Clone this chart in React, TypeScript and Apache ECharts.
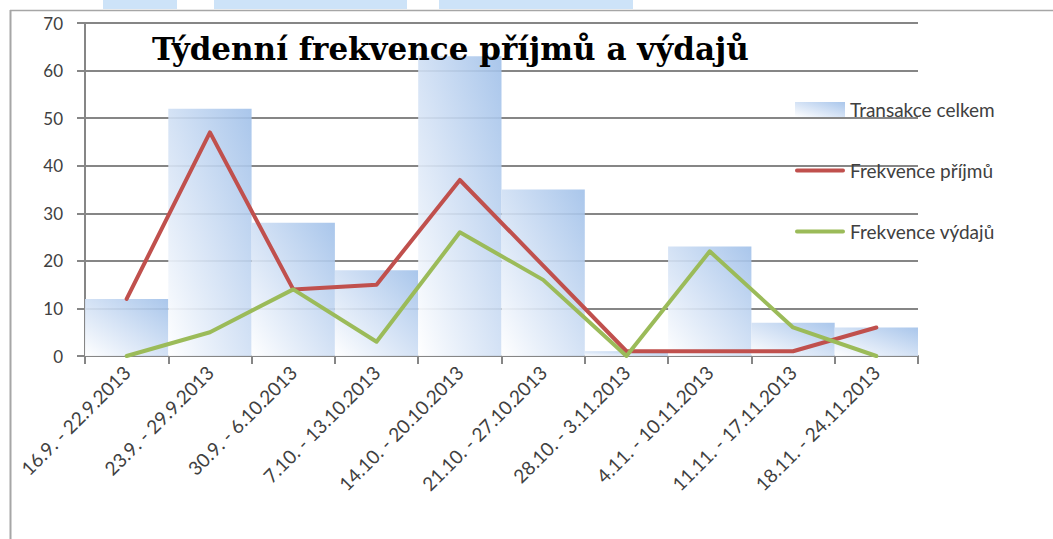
import React, { useEffect, useRef } from "react";
import * as echarts from "echarts";

const categories = [
  "16.9. - 22.9.2013",
  "23.9. - 29.9.2013",
  "30.9. - 6.10.2013",
  "7.10. - 13.10.2013",
  "14.10. - 20.10.2013",
  "21.10. - 27.10.2013",
  "28.10. - 3.11.2013",
  "4.11. - 10.11.2013",
  "11.11. - 17.11.2013",
  "18.11. - 24.11.2013",
];
const transakceCelkem = [12, 52, 28, 18, 63, 35, 1, 23, 7, 6];
const frekvencePrijmu = [12, 47, 14, 15, 37, 19, 1, 1, 1, 6];
const frekvenceVydaju = [0, 5, 14, 3, 26, 16, 0, 22, 6, 0];
const seriesNames = ["Transakce celkem", "Frekvence příjmů", "Frekvence výdajů"];
const titleText = "Týdenní frekvence příjmů a výdajů";

export default function App() {
  const ref = useRef<HTMLDivElement>(null);
  useEffect(() => {
    if (!ref.current) return;
    const chart = echarts.init(ref.current, null, { renderer: "svg" });
    const axisColor = "#868686";
    const labelColor = "#404040";
    const barGradient = new echarts.graphic.LinearGradient(0, 1, 1, 0, [
      { offset: 0, color: "rgba(255,255,255,0.95)" },
      { offset: 0.45, color: "rgba(212,226,245,0.9)" },
      { offset: 1, color: "rgba(160,192,233,0.9)" },
    ]);
    const lineIcon = "path://M2,0 L50,0 A2,2 0 0 1 50,4 L2,4 A2,2 0 0 1 2,0 Z";
    chart.setOption({
      animation: false,
      textStyle: { fontFamily: "Lato" },
      title: {
        text: titleText,
        left: 147,
        top: 28,
        textStyle: {
          fontFamily: "DejaVu Serif",
          fontWeight: "bold",
          fontSize: 31,
          color: "#000000",
        },
        z: 10,
      },
      legend: {
        orient: "vertical",
        left: 790,
        top: 95,
        itemWidth: 50,
        itemHeight: 15,
        itemGap: 42,
        symbolKeepAspect: true,
        textStyle: { fontSize: 19, color: labelColor, fontFamily: "Lato" },
        data: [
          { name: seriesNames[0], icon: "rect" },
          { name: seriesNames[1], icon: lineIcon },
          { name: seriesNames[2], icon: lineIcon },
        ],
      },
      grid: { left: 85, right: 135, top: 23, bottom: 183, containLabel: false },
      xAxis: {
        type: "category",
        data: categories,
        boundaryGap: true,
        axisLine: { lineStyle: { color: axisColor, width: 2 } },
        axisTick: { show: true, length: 8, lineStyle: { color: axisColor, width: 2 } },
        axisLabel: {
          rotate: 45,
          interval: 0,
          margin: 13,
          fontSize: 19,
          color: labelColor,
          fontFamily: "Lato",
        },
      },
      yAxis: {
        type: "value",
        min: 0,
        max: 70,
        interval: 10,
        axisLine: { show: true, lineStyle: { color: axisColor, width: 2 } },
        axisTick: { show: true, length: 8, lineStyle: { color: axisColor, width: 2 } },
        axisLabel: { margin: 22, fontSize: 17, color: labelColor, fontFamily: "Lato" },
        splitLine: { show: true, lineStyle: { color: axisColor, width: 2 } },
      },
      series: [
        {
          name: seriesNames[0],
          type: "bar",
          data: transakceCelkem,
          barCategoryGap: "0%",
          itemStyle: { color: barGradient },
          z: 3,
        },
        {
          name: seriesNames[1],
          type: "line",
          data: frekvencePrijmu,
          symbol: "none",
          lineStyle: { color: "#c0504d", width: 4, cap: "round", join: "round" },
          itemStyle: { color: "#c0504d" },
          z: 4,
        },
        {
          name: seriesNames[2],
          type: "line",
          data: frekvenceVydaju,
          symbol: "none",
          lineStyle: { color: "#9bbb59", width: 4, cap: "round", join: "round" },
          itemStyle: { color: "#9bbb59" },
          z: 5,
        },
      ],
      graphic: [
        { type: "rect", shape: { x: 103, y: 0, width: 74, height: 9 }, style: { fill: "#cde3f8" }, z: 1 },
        { type: "rect", shape: { x: 214, y: 0, width: 193, height: 9 }, style: { fill: "#cde3f8" }, z: 1 },
        { type: "rect", shape: { x: 439, y: 0, width: 194, height: 9 }, style: { fill: "#cde3f8" }, z: 1 },
        { type: "line", shape: { x1: 10, y1: 10.5, x2: 1053, y2: 10.5 }, style: { stroke: "#a6a6a6", lineWidth: 1.5 }, z: 1 },
        { type: "line", shape: { x1: 10.5, y1: 10, x2: 10.5, y2: 539 }, style: { stroke: "#a6a6a6", lineWidth: 2 }, z: 1 },
      ],
    });
    return () => chart.dispose();
  }, []);
  return (
    <div
      ref={ref}
      style={{ position: "fixed", left: 0, top: 0, width: 1053, height: 539, background: "#ffffff" }}
    />
  );
}
